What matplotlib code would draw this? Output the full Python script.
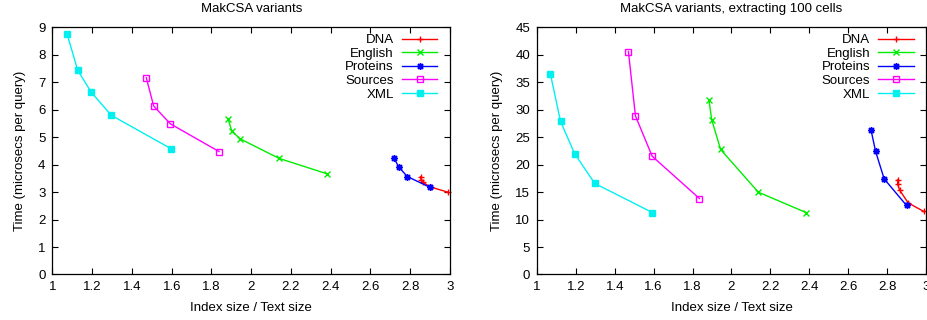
import matplotlib
matplotlib.use("Agg")
import matplotlib.pyplot as plt

plt.rcParams['font.family'] = ['Liberation Sans', 'DejaVu Sans']
plt.rcParams['font.size'] = 9.5

names = ["DNA", "English", "Proteins", "Sources", "XML"]
colors = ["#ff0000", "#00ee00", "#0000ff", "#ff00ff", "#00f0f0"]
markers = ["+", "x", (8, 2, 0), "s", "s"]

# left panel: plain queries
dna_x = [2.852, 2.855, 2.862, 2.905, 2.99]
dna_y = [3.56, 3.45, 3.36, 3.18, 3.00]
eng_x = [1.885, 1.902, 1.945, 2.140, 2.381]
eng_y = [5.65, 5.22, 4.94, 4.23, 3.67]
prot_x = [2.718, 2.742, 2.785, 2.901]
prot_y = [4.25, 3.92, 3.57, 3.17]
src_x = [1.472, 1.509, 1.593, 1.838]
src_y = [7.17, 6.14, 5.49, 4.48]
xml_x = [1.074, 1.127, 1.195, 1.296, 1.595]
xml_y = [8.75, 7.44, 6.64, 5.80, 4.59]

# right panel: extracting 100 cells
dna_x2 = [2.854, 2.855, 2.864, 2.908, 2.989]
dna_y2 = [17.24, 16.40, 15.42, 13.05, 11.48]
eng_x2 = [1.884, 1.898, 1.944, 2.138, 2.383]
eng_y2 = [31.82, 28.23, 22.77, 14.99, 11.29]
prot_x2 = [2.718, 2.741, 2.785, 2.900]
prot_y2 = [26.23, 22.41, 17.42, 12.57]
src_x2 = [1.470, 1.506, 1.592, 1.835]
src_y2 = [40.62, 28.90, 21.55, 13.84]
xml_x2 = [1.069, 1.121, 1.193, 1.297, 1.593]
xml_y2 = [36.49, 27.87, 22.04, 16.58, 11.29]

left = [(dna_x, dna_y), (eng_x, eng_y), (prot_x, prot_y), (src_x, src_y), (xml_x, xml_y)]
right = [(dna_x2, dna_y2), (eng_x2, eng_y2), (prot_x2, prot_y2), (src_x2, src_y2), (xml_x2, xml_y2)]

fig = plt.figure(figsize=(9.27, 3.2), dpi=100)
ax1 = fig.add_axes([0.0566, 0.1422, 0.4288, 0.772])
ax2 = fig.add_axes([0.5793, 0.1422, 0.4196, 0.772])


def draw(ax, series, title, ymax, ystep):
    for (x, y), name, c, m in zip(series, names, colors, markers):
        filled = name != "Sources"
        ax.plot(x, y, color=c, lw=1, marker=m, ms=4 if m == "s" else 5,
                mew=1, mfc=c if filled else "none", label=name, clip_on=False)
    ax.set_xlim(1, 3)
    ax.set_ylim(0, ymax)
    ax.set_xticks([1, 1.2, 1.4, 1.6, 1.8, 2, 2.2, 2.4, 2.6, 2.8, 3])
    ax.set_xticklabels(["1", "1.2", "1.4", "1.6", "1.8", "2", "2.2", "2.4", "2.6", "2.8", "3"])
    ax.set_yticks(range(0, ymax + 1, ystep))
    ax.tick_params(direction="in", top=True, right=True, length=4, width=0.8, pad=5)
    for s in ax.spines.values():
        s.set_linewidth(0.9)
    ax.set_title(title, fontsize=9.5, pad=11)
    ax.set_xlabel("Index size / Text size", labelpad=6)
    ax.set_ylabel("Time (microsecs per query)", labelpad=9)
    ax.legend(loc="upper right", frameon=False, markerfirst=False, handlelength=2.7,
              fontsize=9.5, labelspacing=0.1, borderaxespad=0.2, borderpad=0.3,
              handletextpad=0.6, bbox_to_anchor=(0.985, 1.0))


draw(ax1, left, "MakCSA variants", 9, 1)
draw(ax2, right, "MakCSA variants, extracting 100 cells", 45, 5)

fig.savefig("out.png", dpi=100)
